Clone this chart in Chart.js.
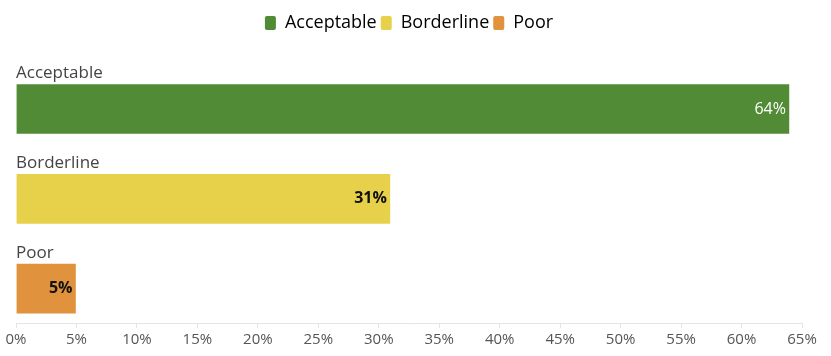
<!DOCTYPE html>
<html>
<head>
<meta charset="utf-8">
<script src="https://cdn.jsdelivr.net/npm/chart.js@4.4.1/dist/chart.umd.min.js"></script>
<style>
  html, body { margin: 0; padding: 0; background: #fff; }
  #wrap { width: 831px; height: 356px; }
</style>
</head>
<body>
<div id="wrap"><canvas id="grafico"></canvas></div>
<script>
// Categorias e valores (%)
const categorias = ['Acceptable', 'Borderline', 'Poor'];
const valores = [64, 31, 5];
const cores = ['#528b35', '#e8d14a', '#e0923d'];
const coresRotulo = ['#ffffff', '#111111', '#111111'];
const pesosRotulo = ['normal', 'bold', 'bold'];

const fonte = "'Open Sans', 'DejaVu Sans', sans-serif";

// Rótulos de categoria acima das barras e valores dentro delas
const rotulosBarras = {
    id: 'rotulosBarras',
    afterDatasetsDraw(chart) {
        const ctx = chart.ctx;
        const meta = chart.getDatasetMeta(0);
        const escalaX = chart.scales.x;
        ctx.save();
        meta.data.forEach(function(bar, i) {
            const topo = bar.y - bar.height / 2;
            // nome da categoria
            ctx.font = 'normal 17px ' + fonte;
            ctx.fillStyle = '#444444';
            ctx.textAlign = 'left';
            ctx.textBaseline = 'alphabetic';
            ctx.fillText(categorias[i], escalaX.getPixelForValue(0), topo - 5);
            // valor
            ctx.font = pesosRotulo[i] + ' 16px ' + fonte;
            ctx.fillStyle = coresRotulo[i];
            ctx.textAlign = 'right';
            ctx.textBaseline = 'middle';
            ctx.fillText(valores[i] + '%', bar.x - 4, bar.y);
        });
        ctx.restore();
    }
};

new Chart(document.getElementById('grafico'), {
    type: 'bar',
    data: {
        datasets: [{
            label: 'Resultado',
            data: valores.map(function(v, i) { return { x: v, y: i }; }),
            backgroundColor: cores,
            borderColor: 'rgba(255,255,255,0.5)',
            borderWidth: 1,
            barThickness: 51
        }]
    },
    options: {
        indexAxis: 'y',
        responsive: true,
        maintainAspectRatio: false,
        animation: false,
        layout: { padding: { left: 16, right: 29, top: 10, bottom: 4 } },
        plugins: {
            legend: {
                position: 'top',
                labels: {
                    font: { family: fonte, size: 18 },
                    color: '#444444',
                    boxWidth: 11,
                    boxHeight: 14,
                    useBorderRadius: true,
                    borderRadius: 2,
                    padding: 4,
                    generateLabels: function() {
                        return categorias.map(function(c, i) {
                            return {
                                text: c,
                                fillStyle: cores[i],
                                strokeStyle: cores[i],
                                lineWidth: 0,
                                borderRadius: 2,
                                hidden: false,
                                index: i
                            };
                        });
                    }
                },
                onClick: function() {}
            },
            tooltip: { enabled: false }
        },
        scales: {
            y: {
                type: 'linear',
                reverse: true,
                offset: false,
                min: -0.746,
                max: 2.383,
                display: false
            },
            x: {
                min: 0,
                max: 65,
                ticks: {
                    stepSize: 5,
                    color: '#555555',
                    font: { family: fonte, size: 15 },
                    callback: function(v) { return v + '%'; }
                },
                grid: {
                    drawOnChartArea: false,
                    drawTicks: true,
                    tickLength: 5,
                    color: '#e4e4e4'
                },
                border: { color: '#e4e4e4' }
            }
        }
    },
    plugins: [rotulosBarras]
});
</script>
</body>
</html>
